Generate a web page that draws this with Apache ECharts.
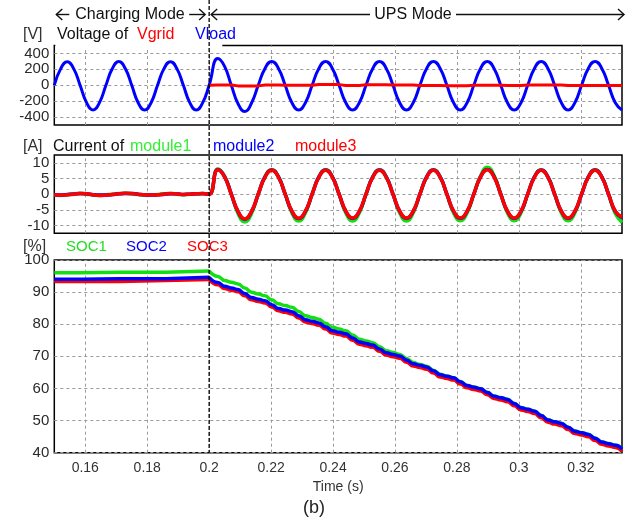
<!DOCTYPE html>
<html><head><meta charset="utf-8">
<script src="https://cdn.jsdelivr.net/npm/echarts@6/dist/echarts.min.js"></script>
<style>html,body{margin:0;padding:0;background:#fff}#c{width:635px;height:523px}</style>
</head><body><div id="c"></div>
<script>
// ---------- data ----------
const timeWave = [
 0.15, 0.15208, 0.15417, 0.15625, 0.15833, 0.16042, 0.1625, 0.16458,
 0.16667, 0.16875, 0.17083, 0.17292, 0.175, 0.17708, 0.17917, 0.18125,
 0.18333, 0.18542, 0.1875, 0.18958, 0.19167, 0.19375, 0.19583, 0.19792,
 0.2,
 0.2028, 0.20498, 0.20715, 0.20933, 0.2115, 0.21368, 0.21585, 0.21803,
 0.2202, 0.22238, 0.22455, 0.22673, 0.2289, 0.23108, 0.23325, 0.23543,
 0.2376, 0.23978, 0.24195, 0.24413, 0.2463, 0.24848, 0.25065, 0.25283,
 0.255, 0.25718, 0.25935, 0.26153, 0.2637, 0.26588, 0.26805, 0.27023,
 0.2724, 0.27458, 0.27675, 0.27893, 0.2811, 0.28328, 0.28545, 0.28763,
 0.2898, 0.29198, 0.29415, 0.29633, 0.2985, 0.30068, 0.30285, 0.30503,
 0.3072, 0.30938, 0.31155, 0.31373, 0.3159, 0.31808, 0.32025, 0.32243,
 0.3246, 0.32678, 0.32895, 0.33113, 0.3333
];
const vload = [
 0, 209, 296, 209, 0, -219, -310, -219,
 0, 210, 298, 210, 0, -220, -312, -220,
 0, 209, 297, 209, 0, -219, -311, -219,
 0,
 335, 237, 0, -233, -330, -224, 0, 212,
 300, 212, 0, -220, -312, -220, 0, 212,
 300, 212, 0, -220, -312, -220, 0, 212,
 300, 212, 0, -220, -312, -220, 0, 212,
 300, 212, 0, -220, -312, -220, 0, 212,
 300, 212, 0, -220, -312, -220, 0, 212,
 300, 212, 0, -220, -312, -220, 0, 212,
 300, 212, 0, -220, -312
];
// Vgrid is only visible (separate from Vload) in UPS mode
const vgrid = [
 null, null, null, null, null, null, null, null,
 null, null, null, null, null, null, null, null,
 null, null, null, null, null, null, null, null,
 0,
 4, 4, 4, -8, -8, -8, -8, 4,
 4, 4, 0, 0, 0, 0, 0, 8,
 8, 8, 8, -4, -4, -4, 6, 6,
 6, 6, 4, 4, 4, 4, -4, -4,
 -4, -4, -6, -6, -6, -6, 0, 0,
 0, 0, 0, -2, -2, -2, 4, 4,
 4, 4, 4, 4, -4, -4, -4, -4,
 -4, -4, -4, -4, -4
];
const iModule1 = [
 -0.3, -0.4, -0.2, 0.1, 0.2, 0, -0.3, -0.4,
 -0.2, 0, 0.2, 0.3, 0.1, -0.1, -0.3, -0.3,
 -0.1, 0.1, 0.2, 0, -0.2, 0, 0.1, 0.1,
 0,
 8.0, 5.7, 0, -6.2, -8.9, -6.2, 0, 5.6,
 7.8, 5.5, 0, -6.0, -8.6, -6.0, 0, 5.5,
 7.8, 5.5, 0, -6.0, -8.6, -6.0, 0, 5.5,
 7.8, 5.5, 0, -6.0, -8.6, -6.0, 0, 5.5,
 7.8, 5.5, 0, -6.0, -8.5, -6.0, 0, 5.8,
 8.6, 6.0, 0, -6.0, -8.5, -6.0, 0, 5.5,
 7.7, 5.5, 0, -6.0, -8.5, -6.0, 0, 5.5,
 7.8, 5.5, 0, -6.2, -9.0
];
const iModule2 = [
 -0.2, -0.3, -0.1, 0, 0.2, 0.1, -0.2, -0.3,
 -0.3, -0.1, 0.1, 0.2, 0.2, 0, -0.2, -0.3,
 -0.2, 0, 0.1, 0.1, -0.1, 0, 0.1, 0.2,
 0,
 7.9, 5.6, 0, -5.6, -8.0, -5.6, 0, 5.5,
 7.7, 5.5, 0, -5.5, -7.8, -5.5, 0, 5.5,
 7.7, 5.5, 0, -5.5, -7.7, -5.5, 0, 5.5,
 7.7, 5.5, 0, -5.5, -7.7, -5.5, 0, 5.5,
 7.7, 5.5, 0, -5.5, -7.7, -5.5, 0, 5.5,
 7.9, 5.6, 0, -5.5, -7.7, -5.5, 0, 5.5,
 7.7, 5.5, 0, -5.5, -7.7, -5.5, 0, 5.5,
 7.7, 5.5, 0, -5.5, -7.5
];
const iModule3 = [
 -0.2, -0.3, -0.2, 0, 0.2, 0.1, -0.2, -0.4,
 -0.3, -0.1, 0.1, 0.3, 0.2, 0, -0.2, -0.3,
 -0.2, 0, 0.2, 0.1, -0.1, 0, 0.1, 0.2,
 0,
 7.8, 5.5, 0, -5.5, -7.9, -5.5, 0, 5.4,
 7.6, 5.4, 0, -5.4, -7.7, -5.4, 0, 5.4,
 7.6, 5.4, 0, -5.4, -7.6, -5.4, 0, 5.4,
 7.6, 5.4, 0, -5.4, -7.6, -5.4, 0, 5.4,
 7.6, 5.4, 0, -5.4, -7.6, -5.4, 0, 5.5,
 7.8, 5.5, 0, -5.4, -7.6, -5.4, 0, 5.4,
 7.6, 5.4, 0, -5.4, -7.6, -5.4, 0, 5.4,
 7.6, 5.4, 0, -5.4, -7.4
];
const socChargeTime = [0.15, 0.159, 0.171, 0.186, 0.2];
const soc1Charge = [96.0, 96.2, 96.2, 96.6, 96.6];
const soc2Charge = [94.0, 94.2, 94.2, 94.6, 94.6];
const soc3Charge = [93.3, 93.3, 93.6, 93.9, 93.9];
const soc1Ups = [
 96.6, 94.9, 93.6, 93.1, 92.55, 91.25, 89.95, 89.4, 88.85, 87.6, 86.35, 85.8,
 85.25, 83.95, 82.65, 82.1, 81.55, 80.3, 79.05, 78.5, 77.95, 76.65, 75.35, 74.8,
 74.25, 73.0, 71.75, 71.2, 70.6, 69.35, 68.1, 67.5, 66.95, 65.7, 64.45, 63.9,
 63.35, 62.15, 60.95, 60.45, 59.95, 58.8, 57.65, 57.15, 56.65, 55.35, 54.05, 53.55,
 52.95, 51.6, 50.25, 49.65, 49.15, 47.95, 46.75, 46.25, 45.75, 44.55, 43.35, 42.85,
 42.35, 41.15
];
const soc2Ups = [
 94.6, 93.0, 91.8, 91.3, 90.8, 89.55, 88.3, 87.8, 87.3, 86.1, 84.9, 84.4,
 83.9, 82.65, 81.4, 80.9, 80.4, 79.2, 78.0, 77.5, 77.0, 75.75, 74.5, 74.0,
 73.5, 72.3, 71.1, 70.6, 70.1, 68.9, 67.7, 67.2, 66.7, 65.5, 64.3, 63.8,
 63.3, 62.1, 60.9, 60.4, 59.9, 58.75, 57.6, 57.1, 56.6, 55.3, 54.0, 53.5,
 52.9, 51.55, 50.2, 49.6, 49.1, 47.9, 46.7, 46.2, 45.7, 44.5, 43.3, 42.8,
 42.3, 41.1
];
const soc3Ups = [
 93.9, 92.3, 91.1, 90.6, 90.1, 88.85, 87.6, 87.1, 86.6, 85.4, 84.2, 83.7,
 83.2, 81.95, 80.7, 80.2, 79.7, 78.5, 77.3, 76.8, 76.3, 75.05, 73.8, 73.3,
 72.8, 71.6, 70.4, 69.9, 69.4, 68.2, 67.0, 66.5, 66.0, 64.8, 63.6, 63.1,
 62.6, 61.4, 60.2, 59.7, 59.2, 58.05, 56.9, 56.4, 55.9, 54.6, 53.3, 52.8,
 52.2, 50.85, 49.5, 48.9, 48.4, 47.2, 46.0, 45.5, 45.0, 43.8, 42.6, 42.1,
 41.6, 40.4
];
const xTicks = [0.16, 0.18, 0.2, 0.22, 0.24, 0.26, 0.28, 0.3, 0.32];
const vTicks = [-400, -200, 0, 200, 400];
const iTicks = [-10, -5, 0, 5, 10];
const socTicks = [40, 50, 60, 70, 80, 90, 100];
const modeSwitchTime = 0.2;

// ---------- build ----------
const zip = (t, v) => t.map((x, i) => [x, v[i]]);
const upsStart = timeWave.indexOf(modeSwitchTime);
const socUpsTime = timeWave.slice(upsStart);

const LAB = 'Liberation Sans, Arial, sans-serif';
const BLUE = '#0000ff', RED = '#ff0000', GREEN = '#12e012';
const gridLine = {color: '#9a9a9a', type: [3, 3], width: 1};

function gridMarks(yt) {
  return {
    silent: true, symbol: 'none', z: 1, animation: false,
    label: {show: false}, emphasis: {disabled: true},
    lineStyle: gridLine,
    data: xTicks.map(v => ({xAxis: v})).concat(yt.map(v => ({yAxis: v})))
  };
}
function line(idx, name, data, color, width, z, extra) {
  return Object.assign({
    type: 'line', name, xAxisIndex: idx, yAxisIndex: idx, data,
    showSymbol: false, symbol: 'none', smooth: 0.5, z,
    lineStyle: {color, width}, itemStyle: {color},
    emphasis: {disabled: true}, animation: false
  }, extra || {});
}

const gridsDef = [
  {top: 45.5, height: 79.5},
  {top: 155, height: 78.3},
  {top: 260, height: 192.7}
];
const yDefs = [
  {min: -500, max: 500, ticks: vTicks},
  {min: -12.5, max: 12.5, ticks: iTicks},
  {min: 40, max: 100, ticks: socTicks}
];

const option = {
  backgroundColor: '#fff',
  animation: false,
  grid: gridsDef.map(g => ({left: 54.3, right: 13, top: g.top, height: g.height,
    show: true, borderColor: '#000', borderWidth: 1.5, backgroundColor: 'transparent'})),
  xAxis: [0, 1, 2].map(i => ({
    type: 'value', gridIndex: i, min: 0.15, max: 0.3333,
    axisLine: {show: false}, axisTick: {show: false}, splitLine: {show: false},
    axisLabel: i === 2 ? {customValues: xTicks, fontSize: 14, color: '#333',
      fontFamily: LAB, margin: 8} : {show: false},
    name: i === 2 ? 'Time (s)' : '', nameLocation: 'middle', nameGap: 27,
    nameTextStyle: {fontSize: 14, color: '#333', fontFamily: LAB}
  })),
  yAxis: yDefs.map((d, i) => ({
    type: 'value', gridIndex: i, min: d.min, max: d.max,
    axisLine: {show: false}, axisTick: {show: false}, splitLine: {show: false},
    axisLabel: {customValues: d.ticks, fontSize: 15, color: '#2a2a2a', fontFamily: LAB,
      margin: 5, hideOverlap: false}
  })),
  series: [
    line(0, 'Vload', zip(timeWave, vload), BLUE, 3, 3, {markLine: gridMarks(vTicks)}),
    line(0, 'Vgrid', zip(timeWave, vgrid), RED, 3, 4, {smooth: false, connectNulls: false}),
    line(1, 'module1', zip(timeWave, iModule1), GREEN, 3.5, 3, {markLine: gridMarks(iTicks)}),
    line(1, 'module2', zip(timeWave, iModule2), BLUE, 3.5, 4),
    line(1, 'module3', zip(timeWave, iModule3), RED, 3.5, 5),
    line(2, 'SOC1', zip(socChargeTime, soc1Charge), GREEN, 3.5, 3, {smooth: false, step: 'end', markLine: gridMarks(socTicks)}),
    line(2, 'SOC3', zip(socChargeTime, soc3Charge), RED, 3.5, 4, {smooth: false, step: 'end'}),
    line(2, 'SOC2', zip(socChargeTime, soc2Charge), BLUE, 3.5, 5, {smooth: false, step: 'end'}),
    line(2, 'SOC1', zip(socUpsTime, soc1Ups), GREEN, 3.5, 3, {smoothMonotone: 'x'}),
    line(2, 'SOC3', zip(socUpsTime, soc3Ups), RED, 3.5, 4, {smoothMonotone: 'x'}),
    line(2, 'SOC2', zip(socUpsTime, soc2Ups), BLUE, 3.5, 5, {smoothMonotone: 'x'})
  ]
};

const chart = echarts.init(document.getElementById('c'));
chart.setOption(option);

// ---------- annotations ----------
const px = v => chart.convertToPixel({xAxisIndex: 0}, v);
const xs = px(modeSwitchTime), xl = px(0.15), xr = px(0.3333);
const bottom3 = gridsDef[2].top + gridsDef[2].height;
const ay = 14.5;
const stroke = {stroke: '#111', lineWidth: 1.4, fill: null};
function txt(x, y, s, color, size, align) {
  return {type: 'text', x, y, z: 50, style: {text: s, fill: color, fontSize: size || 16,
    fontFamily: LAB, align: align || 'left', verticalAlign: 'middle'}};
}
function chevron(x, dir) {
  return {type: 'polyline', z: 50, shape: {points: [[x - dir * 6, ay - 5.5], [x, ay], [x - dir * 6, ay + 5.5]]}, style: stroke};
}
function hline(x1, x2) {
  return {type: 'line', z: 50, shape: {x1, y1: ay, x2, y2: ay}, style: stroke};
}
const graphic = [
  {type: 'rect', z: 40, shape: {x: xl + 1, y: gridsDef[0].top - 2, width: 167, height: 4}, style: {fill: '#fff'}},
  {type: 'line', z: 60, shape: {x1: xs, y1: 0, x2: xs, y2: bottom3},
    style: {stroke: '#000', lineWidth: 1.3, lineDash: [4, 2]}},
  chevron(xl + 2, -1), hline(xl + 2, xl + 15),
  txt(xl + 21, ay, 'Charging Mode', '#111'),
  hline(xs - 20, xs - 4), chevron(xs - 4, 1),
  chevron(xs + 2, -1), hline(xs + 2, 370),
  txt(413, ay, 'UPS Mode', '#111', 16, 'center'),
  hline(456, xr + 2), chevron(xr + 2, 1),
  txt(23, 35, '[V]', '#333'), txt(57, 35, 'Voltage of ', '#111'),
  txt(137, 35, 'Vgrid', RED), txt(195, 35, 'Vload', BLUE),
  txt(23, 147, '[A]', '#333'), txt(53, 147, 'Current of ', '#111'),
  txt(130, 147, 'module1', '#33ee33'), txt(213, 147, 'module2', BLUE), txt(295, 147, 'module3', RED),
  txt(23, 247, '[%]', '#333'),
  txt(66, 247, 'SOC1', '#22dd22', 15), txt(126, 247, 'SOC2', BLUE, 15), txt(187, 247, 'SOC3', RED, 15),
  txt(314, 508, '(b)', '#222', 18, 'center')
];
chart.setOption({graphic});
</script>
</body></html>
